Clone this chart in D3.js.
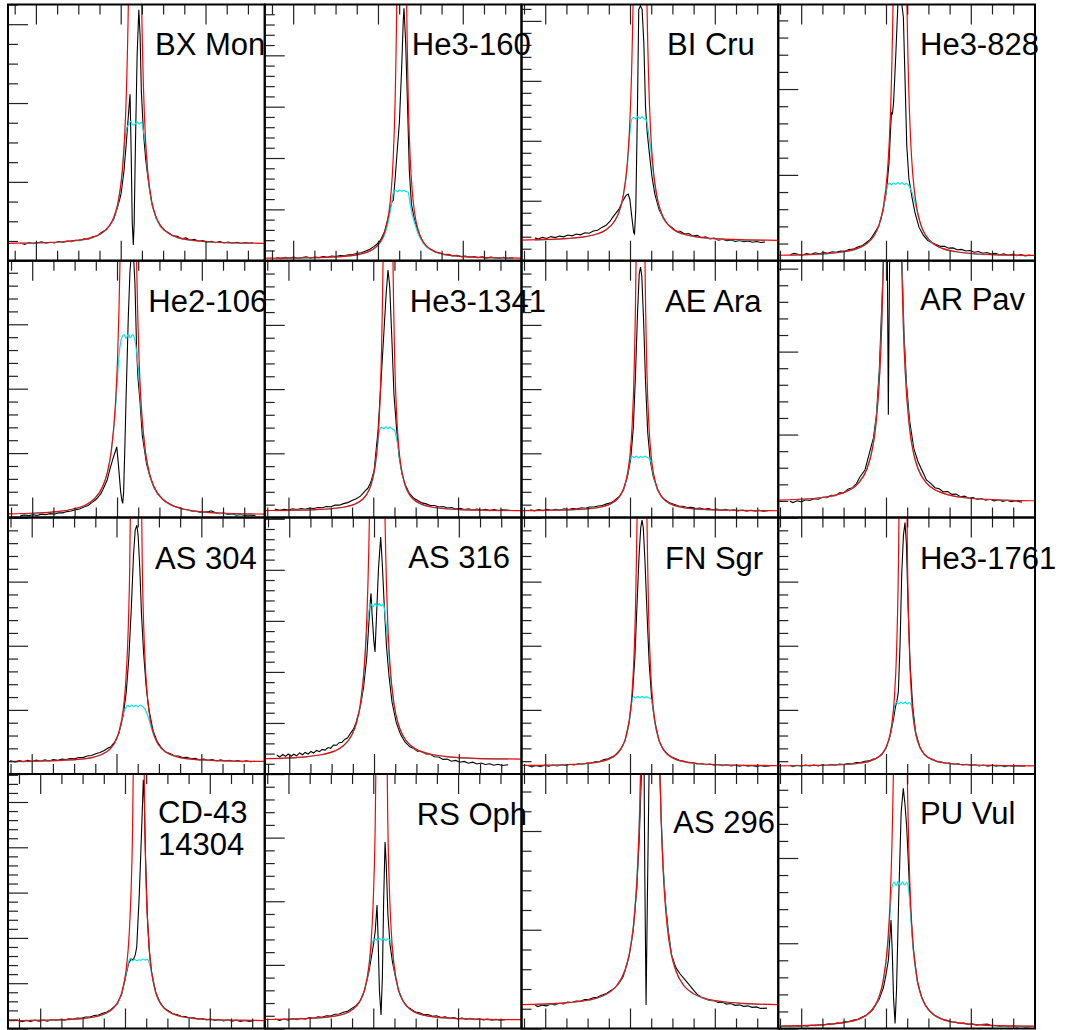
<!DOCTYPE html>
<html>
<head>
<meta charset="utf-8">
<script src="https://cdn.jsdelivr.net/npm/d3@7"></script>
<style>
  body { margin: 0; background: #fff; }
  svg { display: block; }
</style>
</head>
<body>
<div id="chart"></div>
<script>
// ---- data ----
var starNames = ["BX Mon", "He3-160", "BI Cru", "He3-828",
                 "He2-106", "He3-1341", "AE Ara", "AR Pav",
                 "AS 304", "AS 316", "FN Sgr", "He3-1761",
                 "CD-43\n14304", "RS Oph", "AS 296", "PU Vul"];

// wavelength range of every panel (Angstrom)
var xStart = [6533.42, 6533.30, 6534.41, 6534.59,
              6534.29, 6534.41, 6534.41, 6534.59,
              6534.41, 6534.23, 6534.41, 6534.59,
              6532.41, 6534.41, 6534.41, 6534.59];
var xSpan = 60.55;
// fitted line centre (Angstrom)
var lineCenter = [6563.37, 6565.60, 6562.36, 6563.30,
                  6562.66, 6563.48, 6562.48, 6561.54,
                  6564.60, 6560.75, 6562.83, 6564.01,
                  6563.24, 6561.95, 6564.79, 6563.38];

// flux is in % of the plotted maximum; y tick step and minor divisions
var yStep = [30.77, 20.04, 23.4, 33.5,
             25.08, 25, 25, 32.3,
             25, 19.9, 25, 25,
             17.8, 25, 38.8, 33.5];
var yMinorDiv = [4, 5, 5, 5, 5, 5, 5, 5, 5, 5, 5, 5, 5, 5, 5, 5];

// offsets from line centre (Angstrom) for the fits
var halfOffsets = [0, 0.5, 1, 1.5, 2, 2.5, 3, 4, 5, 6, 8, 10, 13, 17, 22, 30, 36];
var fitOffsets = [-36, -30, -22, -17, -13, -10, -8, -6, -5, -4, -3, -2.5, -2, -1.5, -1, -0.5,
                  0, 0.5, 1, 1.5, 2, 2.5, 3, 4, 5, 6, 8, 10, 13, 17, 22, 30, 36];

// Lorentzian fit (red), one half, symmetric about the centre
var redHalf = [
  [300, 300, 205, 108.8, 67.6, 46.7, 34.9, 22.7, 17.0, 13.8, 10.6, 9.1, 8.1, 7.4, 7.0, 6.8, 6.7],
  [300, 293.8, 128.9, 66.9, 40.3, 26.8, 19.1, 11.3, 7.55, 5.5, 3.46, 2.5, 1.8, 1.4, 1.15, 1.0, 0.93],
  [300, 300, 219, 116.9, 72.9, 50.6, 38.0, 25.0, 18.85, 15.5, 12.1, 10.5, 9.4, 8.7, 8.3, 8.0, 7.9],
  [300, 300, 226.8, 118, 71.1, 47.4, 34.0, 20.2, 13.7, 10.1, 6.5, 4.8, 3.6, 2.8, 2.4, 2.1, 2.0],
  [300, 300, 300, 160.5, 96.2, 63.6, 45.1, 26.2, 17.2, 12.3, 7.3, 5.0, 3.3, 2.3, 1.75, 1.36, 1.2],
  [300, 290.5, 128.5, 67.5, 41.3, 28.0, 20.5, 12.8, 9.1, 7.1, 5.1, 4.2, 3.5, 3.1, 2.85, 2.7, 2.6],
  [300, 246.2, 109.1, 57.5, 35.3, 24.1, 17.75, 11.2, 8.1, 6.4, 4.7, 3.9, 3.3, 3.0, 2.8, 2.65, 2.6],
  [300, 300, 300, 187.8, 114.6, 77.5, 56.5, 34.9, 24.65, 19.0, 13.4, 10.8, 8.9, 7.7, 7.1, 6.6, 6.5],
  [300, 300, 148.7, 79.0, 49.1, 33.9, 25.3, 16.5, 12.3, 10.0, 7.7, 6.6, 5.8, 5.4, 5.1, 4.9, 4.85],
  [300, 300, 268.5, 141.3, 86.5, 58.8, 43.1, 27.0, 19.4, 15.2, 11.0, 9.0, 7.6, 6.7, 6.2, 5.9, 5.8],
  [300, 289.1, 128.3, 67.7, 41.7, 28.5, 21.0, 13.3, 9.7, 7.7, 5.7, 4.8, 4.1, 3.7, 3.45, 3.3, 3.2],
  [300, 206.1, 91.9, 48.9, 30.5, 21.1, 15.8, 10.4, 7.8, 6.4, 4.9, 4.3, 3.8, 3.5, 3.35, 3.2, 3.2],
  [300, 300, 140.9, 74.1, 45.4, 30.9, 22.6, 14.2, 10.2, 8.0, 5.8, 4.7, 4.0, 3.5, 3.3, 3.1, 3.0],
  [300, 300, 149.3, 78.7, 48.3, 32.9, 24.2, 15.2, 11.0, 8.7, 6.3, 5.2, 4.45, 4.0, 3.7, 3.5, 3.45],
  [300, 300, 300, 205.1, 126.0, 85.9, 63.2, 39.9, 28.8, 22.8, 16.7, 13.9, 11.8, 10.6, 9.85, 9.4, 9.2],
  [300, 300, 228.6, 118.2, 70.8, 46.8, 33.2, 19.2, 12.6, 9.0, 5.3, 3.6, 2.4, 1.65, 1.2, 0.95, 0.85]
];

// model profile (cyan) on fitOffsets
var cyanModel = [
  [6.6, 6.7, 6.9, 7.3, 8.0, 9.0, 10.5, 13.6, 16.8, 22.4, 34.5, 45.5, 51.5, 53.2, 54.4, 53.0, 53.3, 54.2, 53.4, 54.0, 50.5, 45.0, 34.3, 22.3, 16.7, 13.6, 10.5, 9.0, 8.0, 7.3, 6.9, 6.7, 6.6],
  [0.9, 0.95, 1.1, 1.35, 1.75, 2.4, 3.3, 5.2, 7.1, 10.3, 16.5, 21.5, 26.5, 27.4, 27.0, 27.6, 27.1, 27.5, 27.0, 26.8, 22.0, 18.0, 15.0, 10.0, 7.0, 5.2, 3.3, 2.4, 1.75, 1.35, 1.1, 0.95, 0.9],
  [7.8, 7.9, 8.2, 8.6, 9.3, 10.4, 12.0, 15.3, 18.6, 24.6, 37.0, 48.0, 55.0, 56.0, 55.3, 56.2, 55.5, 56.1, 55.4, 55.0, 50.0, 44.0, 36.0, 24.5, 18.6, 15.3, 12.0, 10.4, 9.3, 8.6, 8.2, 7.9, 7.8],
  [1.9, 2.0, 2.3, 2.7, 3.5, 4.7, 6.4, 9.9, 13.4, 19.8, 29.0, 30.3, 29.6, 30.4, 29.8, 30.5, 29.9, 30.4, 29.7, 30.2, 29.5, 28.0, 26.0, 19.5, 13.4, 9.9, 6.4, 4.7, 3.5, 2.7, 2.3, 2.0, 1.9],
  [1.2, 1.3, 1.6, 2.2, 3.2, 4.9, 7.2, 12.1, 17.0, 25.8, 43.0, 56.0, 66.0, 70.2, 71.2, 69.8, 71.4, 70.0, 71.2, 69.5, 64.0, 55.0, 43.0, 25.8, 17.0, 12.1, 7.2, 4.9, 3.2, 2.2, 1.6, 1.3, 1.2],
  [2.55, 2.65, 2.8, 3.05, 3.45, 4.15, 5.0, 7.0, 9.0, 12.6, 20.2, 27.5, 34.0, 35.2, 34.5, 35.3, 34.6, 35.2, 34.5, 34.0, 31.0, 26.0, 19.8, 12.5, 9.0, 7.0, 5.0, 4.15, 3.45, 3.05, 2.8, 2.65, 2.55],
  [2.55, 2.6, 2.75, 2.95, 3.25, 3.85, 4.6, 6.3, 8.0, 11.0, 17.3, 22.5, 23.8, 23.3, 23.9, 23.2, 23.8, 23.3, 23.9, 23.4, 23.0, 21.5, 17.0, 11.0, 8.0, 6.3, 4.6, 3.85, 3.25, 2.95, 2.75, 2.6, 2.55],
  [6.5, 6.6, 7.1, 7.7, 8.9, 10.9, 13.6, 19.4, 25.2, 35.6, 57.5, 78.5, 116, 125, 124, 125, 124, 125, 124, 125, 116, 78.5, 57.5, 35.6, 25.2, 19.4, 13.6, 10.9, 8.9, 7.7, 7.1, 6.6, 6.5],
  [4.8, 4.85, 5.05, 5.35, 5.75, 6.5, 7.6, 9.9, 12.1, 16.2, 23.5, 25.5, 26.8, 26.2, 26.9, 26.3, 26.8, 26.2, 26.9, 26.4, 25.5, 24.0, 21.5, 16.0, 12.1, 9.9, 7.6, 6.5, 5.75, 5.35, 5.05, 4.85, 4.8],
  [5.7, 5.8, 6.1, 6.6, 7.5, 8.9, 10.9, 15.0, 19.2, 26.6, 42.0, 55.0, 63.0, 66.2, 65.2, 66.4, 65.3, 66.5, 65.5, 66.3, 60.0, 52.0, 41.0, 26.5, 19.2, 15.0, 10.9, 8.9, 7.5, 6.6, 6.1, 5.8, 5.7],
  [3.15, 3.25, 3.4, 3.65, 4.05, 4.75, 5.6, 7.6, 9.6, 13.1, 20.6, 27.5, 30.2, 29.6, 30.3, 29.7, 30.3, 29.6, 30.2, 29.7, 29.5, 27.0, 20.4, 13.1, 9.6, 7.6, 5.6, 4.75, 4.05, 3.65, 3.4, 3.25, 3.15],
  [3.1, 3.15, 3.3, 3.45, 3.75, 4.25, 4.85, 6.3, 7.7, 10.2, 15.4, 20.5, 26.5, 27.9, 27.3, 28.0, 27.4, 28.0, 27.3, 27.8, 26.5, 20.5, 15.4, 10.2, 7.7, 6.3, 4.85, 4.25, 3.75, 3.45, 3.3, 3.15, 3.1],
  [3.0, 3.05, 3.25, 3.45, 3.9, 4.6, 5.7, 7.8, 9.9, 13.8, 21.5, 25.5, 27.5, 26.6, 27.2, 26.7, 27.0, 26.8, 27.3, 26.9, 27.2, 25.6, 22.0, 14.0, 10.1, 7.9, 5.7, 4.6, 3.9, 3.45, 3.25, 3.05, 3.0],
  [3.4, 3.45, 3.65, 3.95, 4.4, 5.1, 6.2, 8.6, 10.9, 15.0, 23.5, 31.0, 34.5, 35.2, 34.6, 35.3, 34.7, 35.3, 34.6, 35.2, 34.6, 31.5, 23.8, 15.0, 10.9, 8.6, 6.2, 5.1, 4.4, 3.95, 3.65, 3.45, 3.4],
  [9.1, 9.3, 9.75, 10.5, 11.7, 13.8, 16.6, 22.8, 29.0, 40.5, 64.5, 87.5, 125, 130, 129, 130, 129, 130, 129, 130, 125, 87.5, 64.5, 40.5, 29.0, 22.8, 16.6, 13.8, 11.7, 10.5, 9.75, 9.3, 9.1],
  [0.8, 0.9, 1.15, 1.6, 2.35, 3.5, 5.2, 8.9, 12.4, 18.8, 31.5, 43.0, 55.0, 57.5, 56.2, 57.8, 56.4, 57.6, 56.3, 57.4, 54.0, 43.0, 31.5, 18.8, 12.4, 8.9, 5.2, 3.5, 2.35, 1.6, 1.15, 0.9, 0.8]
];

// observed spectra (black): [offset from centre in Angstrom, flux %]
var observed = [
  [[-27.1,6.9],[-26,6.4],[-25,7.1],[-24,6.6],[-23,7.0],[-22,7.4],[-21,6.8],[-20,7.2],[-19,6.9],[-18,7.5],[-17,7.1],[-16,7.7],[-15,7.4],[-14,8.0],[-13,7.8],[-12,8.5],[-11,8.4],[-10,9.3],[-9,9.6],[-8,10.9],[-7,11.9],[-6,13.6],
   [-5,16.3],[-4,21.5],[-3.3,26],[-2.6,35],[-2.0,47],[-1.5,58],[-1.17,65],[-0.9,42],[-0.65,15],[-0.4,6.1],[-0.2,14],[0.1,45],[0.5,80],[0.9,97.9],[1.2,88],[1.5,66],[2.0,50],[2.5,40],[3,33],[3.5,27],[4,22],[5,16.6],
   [6,13.4],[7,11.8],[8,10.8],[9,9.7],[10,9.5],[11,8.6],[12,8.9],[13,8.0],[14,8.3],[15,7.6],[16,7.9],[17,7.2],[18,7.6],[19,7.0],[20,7.5],[21,6.9],[22,7.3],[23,6.8],[24,7.2],[25,6.7],[26,7.1],[27,6.8],[27.8,7.0]],
  [[-29.5,1.2],[-28.5,0.8],[-27.5,1.3],[-26.5,1.0],[-25.5,1.4],[-24.5,0.9],[-23.5,1.2],[-22.5,1.5],[-21.5,1.0],[-20.5,1.4],[-19.5,1.2],[-18.5,1.6],[-17.5,1.3],[-16.5,1.8],[-15.5,1.6],[-14.5,2.0],[-13.5,1.9],[-12.5,2.3],[-11.5,2.4],[-10.5,2.9],[-9.5,3.1],[-8.5,3.8],[-7.5,4.5],[-6.5,5.6],[-6,6.2],
   [-5,8],[-4,11.5],[-3.14,17.2],[-2.6,21],[-2.34,23],[-1.97,23.7],[-1.6,31],[-1.17,40.6],[-0.56,53.7],[0,75.7],[0.37,94],[0.54,98.5],[0.94,85],[1.4,58.8],[1.8,35],[2.3,22],[3,16],[4,10.8],
   [5,7.3],[6,5.2],[7,4.4],[8,3.3],[9,3.0],[10,2.4],[11,2.5],[12,1.9],[13,2.1],[14,1.6],[15,1.8],[16,1.3],[17,1.6],[18,1.2],[19,1.5],[20,1.0],[21,1.4],[22,1.1],[23,0.9],[24,1.3],[25,0.9],[26.3,1.1]],
  [[-24.8,8.9],[-24,8.5],[-23,9.1],[-22,8.7],[-21,9.4],[-20,9.0],[-19,9.6],[-18,9.3],[-17,10.0],[-16,9.7],[-15,10.4],[-14,10.1],[-13,10.9],[-12,10.7],[-11,11.6],[-10,11.9],[-9,13.0],[-8,13.8],[-7,15.5],[-6.5,16.8],
   [-5,20],[-4,23.5],[-3.3,25.5],[-2.8,26],[-2.4,24],[-2.0,18],[-1.5,11],[-1.3,10.5],[-1.0,20],[-0.6,60],[-0.3,98],[0.1,99.5],[0.5,98],[0.9,85],[1.3,60],[1.7,50],[2.2,42],[2.8,33],[3.5,26],[4.5,20],
   [5.5,16.5],[6.5,14.2],[7.5,13.0],[8.5,11.6],[9.5,11.5],[10.5,10.4],[11.5,10.6],[12.5,9.6],[13.5,9.9],[14.5,9.0],[15.5,9.3],[16.5,8.5],[17.5,8.8],[18.5,8.0],[19.5,8.4],[20.5,7.8],[21.5,8.1],[22.5,7.5],[23.5,7.9],[24.5,7.4],[25.5,7.7],[26.5,7.2],[27.5,7.5],[28.5,7.1],[29.5,7.3]],
  [[-25.9,2.3],[-25,2.9],[-24,2.5],[-23,2.2],[-22,2.8],[-21,2.4],[-20,3.1],[-19,2.7],[-18,3.2],[-17,2.9],[-16,3.5],[-15,3.3],[-14,3.8],[-13,3.7],[-12,4.4],[-11,4.5],[-10,5.3],[-9,5.8],[-8,7.0],[-7,8.3],[-6.5,9.5],
   [-5,13.5],[-4,19.5],[-3.2,27],[-2.6,38],[-2.2,52],[-2.0,58],[-1.8,57],[-1.5,62],[-1.0,80],[-0.5,100],[0.3,102],[0.8,95],[1.2,70],[1.6,45],[2.1,32],[2.8,25],[3.5,19],
   [4.5,13],[5.5,10],[6.5,8.0],[7.5,7.0],[8.5,6.3],[9.5,5.6],[10.5,5.6],[11.5,4.9],[12.5,5.0],[13.5,4.3],[14.5,4.4],[15.5,3.8],[16.5,4.0],[17.5,3.3],[18.5,3.6],[19.5,2.9],[20.5,3.2],[21.5,2.6],[22.5,2.9],[23.5,2.3],[24.5,2.7],[25.5,2.1],[26.5,2.5],[27.5,2.0],[28.5,2.4],[29.5,1.9],[30.7,2.2]],
  [[-25.5,0.6],[-24.5,1.0],[-23.5,0.7],[-22.5,1.1],[-21.5,0.8],[-20.5,1.3],[-19.5,1.1],[-18.5,1.5],[-17.5,1.3],[-16.5,1.8],[-15.5,1.8],[-14.5,2.3],[-13.5,2.5],[-12.5,3.0],[-11.5,3.3],[-10.5,4.1],[-9.5,4.7],[-8.5,5.9],[-7.5,7.2],[-6.5,9.2],[-6,10.8],
   [-5,14.5],[-4.3,19],[-3.6,23],[-3.0,26],[-2.72,27.5],[-2.3,20],[-1.8,10],[-1.5,6.5],[-1.31,5.5],[-1.1,10],[-0.8,28],[-0.54,45.6],[0,78],[0.4,96],[0.8,104],[1.2,103],[1.57,91],[1.97,65],[2.3,54],[2.74,45.6],[3.3,32],[4.3,21],
   [5,16.5],[6,11.8],[7,9],[8,7.3],[9,6.0],[10,5.1],[11,4.3],[12,3.9],[13,3.2],[14,3.0],[15,2.5],[16,2.4],[17,2.0],[18,2.1],[19,2.3],[19.5,2.6],[20.5,1.9],[21.5,1.5],[22.5,1.7],[23.5,1.2],[24.5,1.4],[25.5,0.9],[26.5,1.2],[27.5,0.8],[28.5,1.0],[30,0.7]],
  [[-26.7,3.3],[-25.5,2.8],[-24.5,3.2],[-23.5,2.9],[-22.5,3.4],[-21.5,3.1],[-20.5,3.5],[-19.5,3.2],[-18.5,3.7],[-17.5,3.5],[-16.5,3.9],[-15.5,3.8],[-14.5,4.3],[-13.5,4.2],[-12.5,4.8],[-11.5,4.8],[-10.5,5.4],[-9.5,5.8],[-8.5,6.6],[-7.5,7.3],[-6.5,8.3],[-5,11],[-4.7,11.5],[-4,14],
   [-3.28,18.3],[-2.34,34],[-1.64,53.4],[-0.94,73],[-0.4,88],[0,96.4],[0.4,90],[0.9,70],[1.4,48],[2,35],[2.6,24],[3.3,17],[4,13],
   [5,9.5],[6,7.6],[7,6.6],[8,5.7],[9,5.3],[10,4.7],[11,4.7],[12,4.1],[13,4.3],[14,3.7],[15,3.9],[16,3.3],[17,3.6],[18,3.1],[19,3.4],[20,2.9],[21,3.3],[22,2.8],[23,3.2],[24,2.7],[25,3.1],[26,2.7],[27,3.0],[28.8,2.8]],
  [[-26,3.0],[-25,2.6],[-24,3.1],[-23,2.7],[-22,3.2],[-21,2.8],[-20,3.2],[-19,2.9],[-18,3.4],[-17,3.1],[-16,3.5],[-15,3.3],[-14,3.8],[-13,3.6],[-12,4.1],[-11,4.1],[-10,4.5],[-9,4.7],[-8,5.3],[-7,5.7],[-6.5,6.2],[-5,8.2],
   [-4,10.8],[-3,16.5],[-2.3,23],[-1.7,35],[-1.2,55],[-0.7,80],[-0.3,95],[0,97.5],[0.3,94],[0.7,78],[1.2,52],[1.7,33],[2.3,22],[3,16],[4,10.8],
   [5,8],[6,6.6],[7,5.6],[8,5.1],[9,4.5],[10,4.4],[11,3.9],[12,4.0],[13,3.5],[14,3.7],[15,3.2],[16,3.5],[17,3.0],[18,3.3],[19,2.8],[20,3.2],[21,2.7],[22,3.0],[23,2.6],[24,2.9],[25,2.5],[26,2.8],[27,2.5],[28,2.8],[29,2.4],[30,2.6]],
  [[-24.2,6.3],[-23.5,5.8],[-22.5,6.5],[-21.5,6.1],[-20.5,6.9],[-19.5,6.6],[-18.5,7.3],[-17.5,7.1],[-16.5,7.9],[-15.5,7.7],[-14.5,8.6],[-13.5,8.5],[-12.5,9.6],[-11.5,9.7],[-10.5,11.0],[-9.5,11.6],[-8.5,13.2],[-7.7,15.8],[-6.5,18.5],[-5.3,26],
   [-4.5,31],[-3.8,40],[-3.1,58],[-2.6,80],[-2.0,105],[-1.6,130],[-1.3,120],[-1.1,70],[-0.99,40],[-0.85,70],[-0.6,115],[0,140],[1,140],[1.8,125],[2.24,100],[2.7,72],[3.3,52],[4,38],
   [5,27],[6,21.8],[7,18.2],[8,14.6],[9,13.3],[10,11.6],[11,11.2],[12,10.0],[13,10.1],[14,9.0],[15,9.1],[16,8.1],[17,8.3],[18,7.5],[19,7.8],[20,7.0],[21,7.4],[22,6.7],[23,7.1],[24,6.5],[25,6.9],[26,6.3],[27,6.7],[28,6.2],[29,6.5],[30.5,6.0]],
  [[-29.7,5.2],[-28.5,4.7],[-27.5,5.2],[-26.5,4.8],[-25.5,5.3],[-24.5,4.9],[-23.5,5.4],[-22.5,5.0],[-21.5,5.5],[-20.5,5.1],[-19.5,5.6],[-18.5,5.3],[-17.5,5.8],[-16.5,5.6],[-15.5,6.0],[-14.5,5.9],[-13.5,6.4],[-12.5,6.4],[-11.5,7.0],[-10.5,7.2],[-9.5,7.9],[-8.5,8.4],[-7.5,9.2],[-6.5,10.2],[-6,10.5],[-5,12.5],
   [-4,16],[-3,23],[-2.3,32],[-1.7,45],[-1.1,65],[-0.6,85],[-0.2,95],[0.2,97],[0.5,93],[0.9,80],[1.3,62],[1.8,47],[2.4,34],[3,25.5],[4,17],
   [5,12.6],[6,10.2],[7,8.6],[8,8.0],[9,7.1],[10,7.0],[11,6.4],[12,6.5],[13,5.9],[14,6.1],[15,5.5],[16,5.8],[17,5.3],[18,5.6],[19,5.1],[20,5.5],[21,5.0],[22,5.3],[23,4.9],[24,5.2],[25,4.8],[26,5.1],[27,4.8],[28.1,5.0]],
  [[-23.7,7.4],[-23,6.6],[-22.3,7.6],[-21.6,6.9],[-21,7.8],[-20.3,6.9],[-19.7,7.7],[-19,7.1],[-18.3,8.2],[-17.6,7.5],[-17,8.4],[-16.3,7.8],[-15.6,8.8],[-15,8.2],[-14.3,9.2],[-13.6,8.7],[-13,9.6],[-12.3,9.3],[-11.6,10.3],[-11,10.0],[-10.3,11.3],[-9.6,11.2],[-9,12.2],[-8.3,12.4],[-7.6,13.6],[-7,14.0],[-6.3,15.9],[-5.6,17.5],[-5,20],
   [-4,26],[-3.2,34],[-2.46,45.6],[-2.0,58],[-1.6,68],[-1.45,70.4],[-1.2,62],[-0.8,52],[-0.52,47.6],[-0.2,60],[0.3,80],[0.82,92.4],[1.2,82],[1.6,67.8],[2.2,49.5],[2.8,38],[3.5,28],
   [4.5,20],[5.5,15.5],[6.5,12.6],[7.7,10.6],[8.5,10.0],[9.5,8.9],[10.5,8.8],[11.5,7.8],[12.5,7.7],[13.5,6.7],[14.5,6.6],[15.5,5.7],[16.5,5.8],[17.5,5.0],[18.5,5.3],[19.5,4.6],[20.5,4.9],[21.5,4.2],[22.5,4.6],[23.5,3.9],[24.5,4.3],[25.5,3.7],[26.5,4.0],[27.5,3.4],[28.5,3.8],[29.5,3.3],[30.9,3.6]],
  [[-26.9,3.3],[-26,2.8],[-25,3.3],[-24,2.9],[-23,3.4],[-22,3.0],[-21,3.5],[-20,3.1],[-19,3.6],[-18,3.3],[-17,3.8],[-16,3.5],[-15,4.0],[-14,3.8],[-13,4.3],[-12,4.3],[-11,4.8],[-10,4.9],[-9,5.6],[-8,5.9],[-7,6.7],[-6.5,7.1],[-5,9.7],
   [-4,13],[-3,20.5],[-2.3,30],[-1.7,45],[-1.2,65],[-0.7,85],[-0.3,96],[0,99],[0.3,96],[0.7,83],[1.2,62],[1.7,43],[2.3,29],[3,20.5],[4,13],
   [5,9.6],[6,7.8],[7,6.6],[8,5.9],[9,5.2],[10,5.0],[11,4.4],[12,4.5],[13,3.9],[14,4.1],[15,3.6],[16,3.9],[17,3.4],[18,3.7],[19,3.2],[20,3.6],[21,3.1],[22,3.4],[23,3.0],[24,3.4],[25,3.0],[26,3.3],[27,2.9],[28,3.3],[29,2.9],[30.2,3.2]],
  [[-26.7,3.4],[-26,2.9],[-25,3.4],[-24,3.0],[-23,3.5],[-22,3.1],[-21,3.5],[-20,3.1],[-19,3.6],[-18,3.3],[-17,3.7],[-16,3.4],[-15,3.9],[-14,3.7],[-13,4.1],[-12,4.0],[-11,4.5],[-10,4.5],[-9,5.0],[-8,5.1],[-7,5.8],[-6.5,5.9],[-5,7.6],
   [-4,10],[-3,15],[-2.3,21],[-1.8,26],[-1.4,28.8],[-1.1,32],[-0.7,50],[-0.3,78],[0.1,93],[0.47,98],[0.8,90],[1.2,65],[1.7,42],[2.3,26],[3,16],[4,10.3],
   [5,7.7],[6,6.3],[7,5.7],[8,4.9],[9,4.7],[10,4.2],[11,4.3],[12,3.8],[13,4.0],[14,3.5],[15,3.8],[16,3.3],[17,3.6],[18,3.1],[19,3.5],[20,3.0],[21,3.4],[22,3.0],[23,3.3],[24,2.9],[25,3.3],[26,2.9],[27,3.2],[28.8,3.0]],
  [[-28.4,3.2],[-27.5,2.7],[-26.5,3.2],[-25.5,2.8],[-24.5,3.3],[-23.5,2.9],[-22.5,3.3],[-21.5,2.9],[-20.5,3.5],[-19.5,3.2],[-18.5,3.6],[-17.5,3.3],[-16.5,3.8],[-15.5,3.6],[-14.5,4.1],[-13.5,4.0],[-12.5,4.5],[-11.5,4.5],[-10.5,5.1],[-9.5,5.3],[-8.5,6.0],[-7.5,6.5],[-6.5,7.5],[-5,9.8],
   [-4,13.5],[-3,21],[-2.4,25.5],[-1.8,27.3],[-1.27,27],[-0.8,29],[-0.47,32],[0.14,53],[0.71,79.3],[1.08,97.7],[1.3,90],[1.6,68],[2.0,45],[2.5,30.5],[3.0,22.5],[4,14.3],
   [5,10.3],[6,8.0],[7,7.0],[8,5.8],[9,5.5],[10,4.8],[11,4.7],[12,4.1],[13,4.2],[14,3.7],[15,3.9],[16,3.4],[17,3.7],[18,3.2],[19,3.5],[20,3.0],[21,3.4],[22,2.9],[23,3.3],[24,2.8],[25,3.2],[26,2.8],[27,3.0]],
  [[-25.1,3.7],[-24,3.2],[-23,3.7],[-22,3.3],[-21,3.9],[-20,3.5],[-19,4.0],[-18,3.7],[-17,4.3],[-16,4.0],[-15,4.6],[-14,4.4],[-13,5.0],[-12,4.9],[-11,5.6],[-10,5.7],[-9,6.4],[-8,6.8],[-7,7.9],[-6,9],
   [-5,11],[-4,15],[-3,22],[-2.4,28],[-1.9,33],[-1.5,38],[-1.06,48.5],[-0.8,35],[-0.5,15],[-0.12,5.3],[0.2,20],[0.5,50],[0.83,73.3],[1.1,65],[1.5,45],[2.0,33],[2.6,26],[3.2,21],[4,15],
   [5,11],[6,8.7],[7,7.6],[8,6.5],[9,6.2],[10,5.4],[11,5.5],[12,4.8],[13,5.0],[14,4.3],[15,4.6],[16,4.0],[17,4.3],[18,3.8],[19,4.1],[20,3.6],[21,4.0],[22,3.5],[23,3.8],[24,3.4],[25,3.7],[26,3.3],[27,3.6],[28,3.3],[29.1,3.5]],
  [[-27.2,9.2],[-26.5,8.6],[-25.5,9.2],[-24.5,8.9],[-23.5,9.6],[-22.5,9.3],[-21.5,9.9],[-20.5,9.7],[-19.5,10.4],[-18.5,10.2],[-17.5,10.8],[-16.5,10.7],[-15.5,11.4],[-14.5,11.4],[-13.5,12.1],[-12.5,12.3],[-11.5,13.1],[-10.5,13.6],[-9.5,14.7],[-8.5,15.7],[-7.5,17.5],[-6.5,20],[-6,22.5],[-5,28.5],
   [-4,39],[-3.2,55],[-2.6,75],[-2.1,100],[-1.8,120],[-1.5,110],[-1.3,60],[-1.0,9.2],[-0.7,50],[-0.3,100],[0,120],[1.5,120],[2.1,110],[2.5,85],[3.0,64],[3.6,49],[4.2,39],[5,29],[6,24],[7,21.5],[8,19.5],[9,17.5],[10,15.5],[11,13.5],[12,12.3],
   [13,11.6],[14,11.0],[15,10.9],[16,10.2],[17,10.3],[18,9.6],[19,9.8],[20,9.1],[21,9.3],[22,8.7],[23,8.9],[24,8.3],[25,8.5],[26,7.9],[27.5,8.0]],
  [[-28.1,0.7],[-27,1.0],[-26,0.7],[-25,1.1],[-24,0.8],[-23,1.2],[-22,0.9],[-21,1.3],[-20,1.1],[-19,1.5],[-18,1.4],[-17,1.8],[-16,1.7],[-15,2.1],[-14,2.2],[-13,2.6],[-12,2.8],[-11,3.3],[-10,3.6],[-9,4.5],[-8,5.2],[-7,6.5],[-6.5,7.3],[-5,11.5],
   [-4,16],[-3.4,21],[-2.8,27],[-2.5,35],[-2.2,42.6],[-1.9,30],[-1.6,12],[-1.24,2],[-0.9,15],[-0.4,50],[0.2,85],[0.7,94.4],[1.1,88],[1.5,79.3],[1.9,65],[2.27,50.5],[3.0,32],[4,18.5],
   [5,12.3],[6,8.8],[7,6.7],[8,5.2],[9,4.4],[10,3.5],[11,3.2],[12,2.6],[13,2.5],[14,2.0],[15,2.1],[16,1.6],[17,1.8],[18,1.3],[19,1.6],[20.5,1.7],[21.5,1.1],[22.5,1.2],[23.5,0.8],[24.5,1.1],[25.5,0.7],[26.5,1.0],[27.5,0.6],[28.5,0.9],[29.5,0.6],[31.3,0.8]]
];

// ---- layout ----
var width = 1066, height = 1030;
var panelLeft = 8, panelW = 256.75;
var rowEdges = [4.5, 260.7, 517.5, 774, 1028.5];
var labelDx = [147, 147, 145.5, 141.75, 140.3, 145, 143.5, 141.75, 147, 143.6, 143.5, 141.75, 150, 152, 151.8, 141.75];
var labelDy = [50.5, 50.5, 50.5, 50.5, 51, 51, 51, 49.3, 51, 50.8, 51, 51, 49.3, 51, 59.3, 50];

var svg = d3.select("#chart").append("svg")
    .attr("width", width)
    .attr("height", height);

var defs = svg.append("defs");
var labels = svg.append("g");

starNames.forEach(function(name, i) {
    let col = i % 4, row = Math.floor(i / 4);
    let left = panelLeft + col * panelW, right = left + panelW;
    let top = rowEdges[row], bottom = rowEdges[row + 1];

    let x = d3.scaleLinear().domain([xStart[i], xStart[i] + xSpan]).range([left, right]);
    let y = d3.scaleLinear().domain([0, 100]).range([bottom, top]);

    defs.append("clipPath").attr("id", "clip" + i)
        .append("rect")
        .attr("x", left).attr("y", top)
        .attr("width", panelW).attr("height", bottom - top);

    let obs = observed[i];
    let obsLo = d3.min(obs, d => d[0]), obsHi = d3.max(obs, d => d[0]);
    defs.append("clipPath").attr("id", "cclip" + i)
        .append("rect")
        .attr("x", x(lineCenter[i] + obsLo)).attr("y", top)
        .attr("width", x(lineCenter[i] + obsHi) - x(lineCenter[i] + obsLo))
        .attr("height", bottom - top);

    let g = svg.append("g");
    let plot = g.append("g").attr("clip-path", "url(#clip" + i + ")");

    let smooth = d3.line()
        .x(d => x(lineCenter[i] + d[0]))
        .y(d => y(d[1]))
        .curve(d3.curveMonotoneX);
    let straight = d3.line()
        .x(d => x(lineCenter[i] + d[0]))
        .y(d => y(d[1]));

    // observed
    plot.append("path")
        .attr("d", straight(obs))
        .attr("fill", "none")
        .attr("stroke", "#000")
        .attr("stroke-width", 1.1);

    // cyan model
    plot.append("g").attr("clip-path", "url(#cclip" + i + ")")
        .append("path")
        .attr("d", smooth(fitOffsets.map((o, k) => [o, cyanModel[i][k]])))
        .attr("fill", "none")
        .attr("stroke", "#00e6ee")
        .attr("stroke-width", 1.2);

    // red lorentzian fit
    let redPts = halfOffsets.slice(1).reverse().map(o => [-o, redHalf[i][halfOffsets.indexOf(o)]])
        .concat(halfOffsets.map((o, k) => [o, redHalf[i][k]]));
    plot.append("path")
        .attr("d", smooth(redPts))
        .attr("fill", "none")
        .attr("stroke", "#ff0000")
        .attr("stroke-width", 1.2);

    // ticks
    let xt = d3.range(Math.ceil(xStart[i] / 5) * 5, xStart[i] + xSpan, 5);
    let xMajor = xt.filter(v => v % 20 === 0);
    let xMinor = xt.filter(v => v % 20 !== 0);
    let yMinorStep = yStep[i] / yMinorDiv[i];
    let yt = d3.range(0, Math.floor(100 / yMinorStep + 0.02) + 1);
    let yMajor = yt.filter(k => k % yMinorDiv[i] === 0).map(k => k * yMinorStep);
    let yMinor = yt.filter(k => k % yMinorDiv[i] !== 0).map(k => k * yMinorStep);

    function ticks(axis, values, size, tr) {
        g.append("g")
            .attr("transform", tr)
            .attr("color", "#222")
            .call(axis.tickValues(values).tickSize(size).tickFormat(""))
            .call(a => a.select(".domain").remove())
            .selectAll("line").attr("stroke-width", 1.2);
    }
    ticks(d3.axisBottom(x), xMajor, 20, "translate(0," + top + ")");
    ticks(d3.axisBottom(x), xMinor, 10, "translate(0," + top + ")");
    ticks(d3.axisTop(x), xMajor, 20, "translate(0," + bottom + ")");
    ticks(d3.axisTop(x), xMinor, 10, "translate(0," + bottom + ")");
    ticks(d3.axisRight(y), yMajor, 20, "translate(" + left + ",0)");
    ticks(d3.axisRight(y), yMinor, 10, "translate(" + left + ",0)");

    // frame
    g.append("rect")
        .attr("x", left).attr("y", top)
        .attr("width", panelW).attr("height", bottom - top)
        .attr("fill", "none")
        .attr("stroke", "#000")
        .attr("stroke-width", 2);

    // label
    let t = labels.append("text")
        .attr("x", left + labelDx[i])
        .attr("y", top + labelDy[i])
        .attr("font-family", "'Liberation Sans', Arial, Helvetica, sans-serif")
        .attr("font-size", 31)
        .attr("fill", "#000");
    name.split("\n").forEach((line, k) => {
        t.append("tspan")
            .attr("x", left + labelDx[i])
            .attr("dy", k === 0 ? 0 : 31.7)
            .text(line);
    });
});
labels.raise();
</script>
</body>
</html>
